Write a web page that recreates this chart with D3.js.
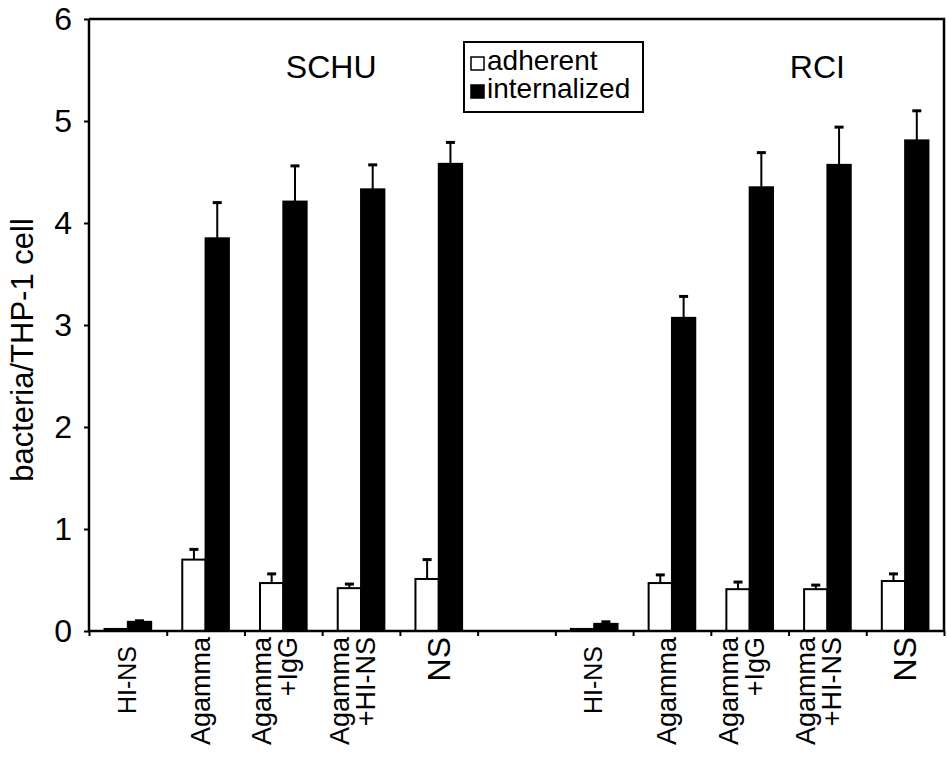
<!DOCTYPE html>
<html>
<head>
<meta charset="utf-8">
<script src="https://cdn.jsdelivr.net/npm/d3@7"></script>
<style>
  body { margin: 0; background: #fff; }
  svg { font-family: "Liberation Sans", Arial, sans-serif; }
</style>
</head>
<body>
<div id="svg-container"></div>
<script>
// strains and the conditions in each group (second entry = second label line)
var strains = ["SCHU", "RCI"];
var conditions = [["HI-NS"], ["Agamma"], ["Agamma", "+IgG"], ["Agamma", "+HI-NS"], ["NS"]];
var series = ["adherent", "internalized"];

// values
var schuAdherent = [0.02, 0.70, 0.47, 0.42, 0.51];
var schuAdherentErr = [0.00, 0.10, 0.09, 0.04, 0.19];
var schuInternalized = [0.09, 3.85, 4.21, 4.33, 4.58];
var schuInternalizedErr = [0.01, 0.35, 0.35, 0.24, 0.21];
var rciAdherent = [0.02, 0.47, 0.41, 0.41, 0.49];
var rciAdherentErr = [0.00, 0.08, 0.07, 0.04, 0.07];
var rciInternalized = [0.07, 3.07, 4.35, 4.57, 4.81];
var rciInternalizedErr = [0.02, 0.21, 0.34, 0.37, 0.29];

var yTicks = [0, 1, 2, 3, 4, 5, 6];

var width = 947, height = 761;
var margin = {top: 19, left: 89, right: 3, bottom: 130};
var w = width - margin.left - margin.right;
var h = height - margin.top - margin.bottom;

// 11 slots: 5 SCHU, one empty gap, 5 RCI
var nSlots = conditions.length * 2 + 1;
var x = d3.scaleLinear().domain([0, nSlots]).range([0, w]);
var y = d3.scaleLinear().domain([0, 6]).range([h, 0]);
var bw = (x(1) - x(0)) * 0.3;

var bars = [];
var allVals = [[schuAdherent, schuAdherentErr, schuInternalized, schuInternalizedErr],
               [rciAdherent, rciAdherentErr, rciInternalized, rciInternalizedErr]];
strains.forEach(function(s, si){
  conditions.forEach(function(c, ci){
    var slot = si * (conditions.length + 1) + ci;
    bars.push({slot: slot, kind: "adherent", v: allVals[si][0][ci], e: allVals[si][1][ci]});
    bars.push({slot: slot, kind: "internalized", v: allVals[si][2][ci], e: allVals[si][3][ci]});
  });
});

var svg = d3.select("#svg-container")
            .append("svg")
            .attr("width", width)
            .attr("height", height);

var canvas = svg.append("g")
            .attr("transform", "translate(" + margin.left + "," + margin.top + ")");

function barX(d){
  var c = x(d.slot + 0.5);
  return d.kind == "adherent" ? c - bw : c;
}

// bars
canvas.selectAll(".bar")
      .data(bars)
      .enter()
        .append("rect")
        .attr("class", "bar")
        .attr("x", barX)
        .attr("width", bw)
        .attr("y", function(d){ return y(d.v); })
        .attr("height", function(d){ return y(0) - y(d.v); })
        .attr("fill", function(d){ return d.kind == "adherent" ? "#fff" : "#000"; })
        .attr("stroke", "#000")
        .attr("stroke-width", 2);

// error bars (upper only)
var err = canvas.selectAll(".err")
      .data(bars.filter(function(d){ return d.e > 0; }))
      .enter()
        .append("g")
        .attr("class", "err");
err.append("line")
   .attr("x1", function(d){ return barX(d) + bw / 2; })
   .attr("x2", function(d){ return barX(d) + bw / 2; })
   .attr("y1", function(d){ return y(d.v); })
   .attr("y2", function(d){ return y(d.v + d.e); })
   .attr("stroke", "#000")
   .attr("stroke-width", 2);
err.append("line")
   .attr("x1", function(d){ return barX(d) + bw / 2 - 4.5; })
   .attr("x2", function(d){ return barX(d) + bw / 2 + 4.5; })
   .attr("y1", function(d){ return y(d.v + d.e); })
   .attr("y2", function(d){ return y(d.v + d.e); })
   .attr("stroke", "#000")
   .attr("stroke-width", 3);

// axes
var yAxis = d3.axisLeft(y).tickValues(yTicks).tickFormat(d3.format("d")).tickSize(5).tickPadding(12);
var yG = canvas.append("g").call(yAxis);
yG.select(".domain").remove();
yG.selectAll("line").attr("stroke-width", 2);
yG.selectAll("text").style("font-size", "32px").attr("fill", "#000");

var xAxis = d3.axisBottom(x).tickValues(d3.range(0, nSlots + 1)).tickSize(5).tickFormat("");
var xG = canvas.append("g").attr("transform", "translate(0," + h + ")").call(xAxis);
xG.select(".domain").remove();
xG.selectAll("line").attr("stroke-width", 2);

// frame: left, bottom, top, right
canvas.append("path")
      .attr("d", "M0,0V" + h + "H" + w + "V0H0")
      .attr("fill", "none")
      .attr("stroke", "#000")
      .attr("stroke-width", 2.5);

// x labels, rotated
strains.forEach(function(s, si){
  conditions.forEach(function(c, ci){
    var slot = si * (conditions.length + 1) + ci;
    var cx = x(slot + 0.5);
    var big = c[0] == "NS";
    var hins = c[0] == "HI-NS";
    var t = canvas.append("text")
          .attr("transform", "translate(" + cx + "," + (h + (hins ? 15 : 6)) + ") rotate(-90)")
          .attr("text-anchor", "end")
          .style("font-size", big ? "32px" : (hins ? "25px" : "27px"));
    if (c.length == 1) {
      t.append("tspan").attr("x", 0).attr("y", big ? 11 : (hins ? 8 : 4)).text(c[0]);
    } else {
      t.append("tspan").attr("x", 0).attr("y", -12).text(c[0]);
      t.append("tspan").attr("x", 0).attr("y", 14).text(c[1]);
    }
  });
});

// strain titles
canvas.selectAll(".strain")
      .data(strains)
      .enter()
        .append("text")
        .attr("class", "strain")
        .attr("x", function(d, i){ return i == 0 ? x(3) + 9 : x(9.5) - 10; })
        .attr("y", 59)
        .attr("text-anchor", "middle")
        .style("font-size", "32px")
        .text(function(d){ return d; });

// y label
svg.append("text")
   .attr("transform", "translate(33," + (margin.top + h / 2 + 25) + ") rotate(-90)")
   .attr("text-anchor", "middle")
   .style("font-size", "31px")
   .text("bacteria/THP-1 cell");

// legend
var leg = svg.append("g").attr("transform", "translate(464,42)");
leg.append("rect")
   .attr("width", 179)
   .attr("height", 70)
   .attr("fill", "#fff")
   .attr("stroke", "#000")
   .attr("stroke-width", 2);
var li = leg.selectAll(".li")
   .data(series)
   .enter()
     .append("g")
     .attr("class", "li")
     .attr("transform", function(d, i){ return "translate(7," + (15 + i * 28) + ")"; });
li.append("rect")
  .attr("width", 13)
  .attr("height", 13)
  .attr("fill", function(d, i){ return i == 0 ? "#fff" : "#000"; })
  .attr("stroke", "#000")
  .attr("stroke-width", 1.5);
li.append("text")
  .attr("x", 16)
  .attr("y", 13)
  .style("font-size", "28px")
  .text(function(d){ return d; });
</script>
</body>
</html>
